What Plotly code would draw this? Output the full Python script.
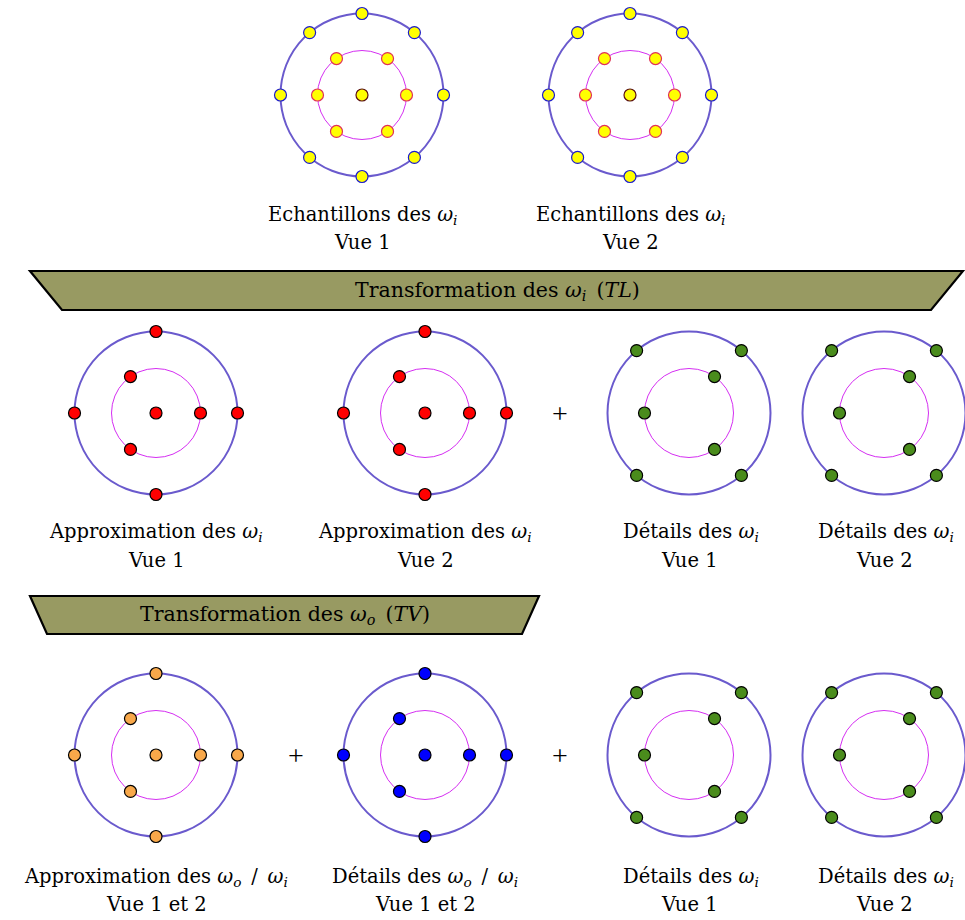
import numpy as np
import plotly.graph_objects as go

# angles (degrees) of the sample points on each ring
outer_approx = [0, 90, 180, 270]
inner_approx = [0, 125, 235]
outer_detail = [50, 130, 230, 310]
inner_detail = [55, 180, 305]
outer_all = [0, 50, 90, 130, 180, 230, 270, 310]
inner_all = [0, 55, 125, 180, 235, 305]

R_OUT, R_IN = 81.5, 44.5
FONT = "DejaVu Serif"
FS = 19.5
EN = "\u2002"  # math-mode spacing
W = "<i>ω</i><sub><i>i</i></sub>"
WO = "<i>ω</i><sub><i>o</i></sub>"

OUTER_LINE = "#6A5ACD"
INNER_LINE = "#D52EF2"

fig = go.Figure()


def ring_points(cx, cy, r, angles):
    a = np.radians(np.asarray(angles, dtype=float))
    return cx + r * np.cos(a), cy - r * np.sin(a)


def wheel(cx, cy, outer, inner, center, fill, edges=("black", "black", "black")):
    for r, col, lw in ((R_OUT, OUTER_LINE, 2), (R_IN, INNER_LINE, 1)):
        fig.add_shape(type="circle", x0=cx - r, x1=cx + r, y0=cy - r, y1=cy + r,
                      line=dict(color=col, width=lw), layer="below")
    groups = [(outer, R_OUT, edges[0]), (inner, R_IN, edges[1])]
    for angs, r, ec in groups:
        xs, ys = ring_points(cx, cy, r, angs)
        fig.add_trace(go.Scatter(x=xs, y=ys, mode="markers", hoverinfo="skip",
                                 marker=dict(size=12, color=fill, line=dict(color=ec, width=1.2))))
    if center:
        fig.add_trace(go.Scatter(x=[cx], y=[cy], mode="markers", hoverinfo="skip",
                                 marker=dict(size=12, color=fill, line=dict(color=edges[2], width=1.2))))


def label(x, y, text, size=FS, family=FONT):
    fig.add_annotation(x=x, y=y, text=text, showarrow=False, xref="x", yref="y",
                       font=dict(family=family, size=size, color="black"))


def banner(x0, x1, y0, y1, slant, text, tx):
    path = f"M{x0},{y0} L{x1},{y0} L{x1 - slant},{y1} L{x0 + slant},{y1} Z"
    fig.add_shape(type="path", path=path, fillcolor="#989A62",
                  line=dict(color="black", width=2.2), layer="below")
    label(tx, (y0 + y1) / 2, text, 20.5)


def plus(x, y):
    label(x, y, "+", 28, "Liberation Serif")


# row 1 : samples
yellow_edges = ("#1A1ACC", "#E0305A", "#5A1010")
for cx, vue in ((362, "Vue 1"), (630, "Vue 2")):
    wheel(cx, 95, outer_all, inner_all, True, "#FFFF00", yellow_edges)
    label(cx, 215, f"Echantillons des {W}")
    label(cx, 242, vue)

banner(30, 963, 271, 310, 32, f"Transformation des {W}{EN}(<i>TL</i>)", 497)

# row 2 : TL
for cx, vue in ((156, "Vue 1"), (425, "Vue 2")):
    wheel(cx, 413, outer_approx, inner_approx, True, "#FF0000")
    label(cx, 532, f"Approximation des {W}")
    label(cx, 560, vue)
for cx, vue in ((689, "Vue 1"), (884, "Vue 2")):
    wheel(cx, 413, outer_detail, inner_detail, False, "#4A8C1C")
    label(cx + 2, 532, f"Détails des {W}")
    label(cx, 560, vue)
plus(560, 413)

banner(30, 539, 596, 634, 17, f"Transformation des {WO}{EN}(<i>TV</i>)", 285)

# row 3 : TV
wheel(156, 755, outer_approx, inner_approx, True, "#F8A84A")
label(156, 877, f"Approximation des {WO}{EN}/{EN}{W}")
label(156, 904, "Vue 1 et 2")
wheel(425, 755, outer_approx, inner_approx, True, "#0000FF")
label(425, 877, f"Détails des {WO}{EN}/{EN}{W}")
label(425, 904, "Vue 1 et 2")
for cx, vue in ((689, "Vue 1"), (884, "Vue 2")):
    wheel(cx, 755, outer_detail, inner_detail, False, "#4A8C1C")
    label(cx + 2, 877, f"Détails des {W}")
    label(cx, 904, vue)
plus(296, 755)
plus(560, 755)

fig.update_layout(
    width=965, height=920, showlegend=False,
    margin=dict(l=0, r=0, t=0, b=0),
    paper_bgcolor="white", plot_bgcolor="white",
    xaxis=dict(range=[0, 965], visible=False, fixedrange=True),
    yaxis=dict(range=[920, 0], visible=False, fixedrange=True),
)
fig.write_html("out.html", config={"displayModeBar": False},
               post_script="document.body.style.margin='0';")
